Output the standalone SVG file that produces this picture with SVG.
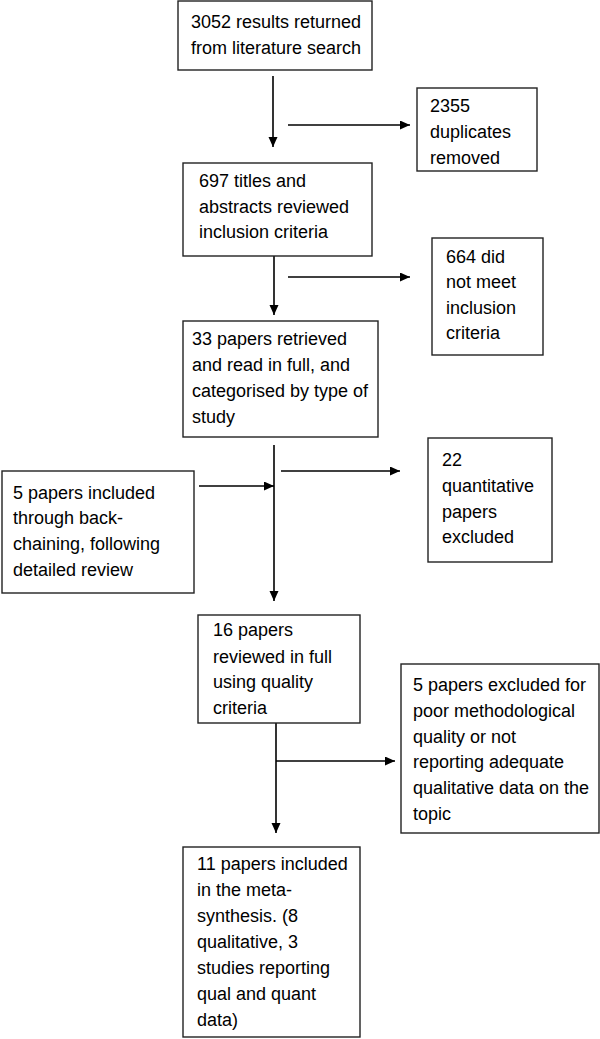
<svg xmlns="http://www.w3.org/2000/svg" width="600" height="1039" viewBox="0 0 600 1039">
<style>
.box{fill:#fff;stroke:#222;stroke-width:1.4}
.t{font-family:"Liberation Sans",Arial,Helvetica,sans-serif;font-size:18px;fill:#000}
.c{stroke:#000;stroke-width:1.6;fill:none}
.a{marker-end:url(#ah)}
</style>
<defs>
<marker id="ah" markerUnits="userSpaceOnUse" markerWidth="11" markerHeight="10" refX="10" refY="4.5" orient="auto">
<path d="M0,0 L10,4.5 L0,9 z" fill="#000"/>
</marker>
</defs>
<rect width="600" height="1039" fill="#fff"/>
<g id="connectors">
<line class="c a" x1="273" y1="76" x2="273" y2="147"/>
<line class="c a" x1="288" y1="125" x2="410" y2="125"/>
<line class="c a" x1="274" y1="256" x2="274" y2="315"/>
<line class="c a" x1="288" y1="277" x2="410" y2="277"/>
<line class="c a" x1="274" y1="445" x2="274" y2="601"/>
<line class="c a" x1="199" y1="486" x2="274" y2="486"/>
<line class="c a" x1="281" y1="471" x2="400" y2="471"/>
<line class="c a" x1="276" y1="723" x2="276" y2="833"/>
<line class="c a" x1="276" y1="761" x2="395" y2="761"/>
</g>
<g id="n1">
<rect class="box" x="178" y="1" width="194" height="69"/>
<text class="t" x="191" y="28">3052 results returned</text>
<text class="t" x="191" y="54">from literature search</text>
</g>
<g id="n2">
<rect class="box" x="417" y="88" width="120" height="83"/>
<text class="t" x="430" y="112">2355</text>
<text class="t" x="430" y="138">duplicates</text>
<text class="t" x="430" y="164">removed</text>
</g>
<g id="n3">
<rect class="box" x="183" y="163" width="189" height="93"/>
<text class="t" x="199" y="187">697 titles and</text>
<text class="t" x="199" y="213">abstracts reviewed</text>
<text class="t" x="199" y="238">inclusion criteria</text>
</g>
<g id="n4">
<rect class="box" x="432" y="238" width="111" height="117"/>
<text class="t" x="446" y="263">664 did</text>
<text class="t" x="446" y="288">not meet</text>
<text class="t" x="446" y="314">inclusion</text>
<text class="t" x="446" y="339">criteria</text>
</g>
<g id="n5">
<rect class="box" x="183" y="321" width="195" height="116"/>
<text class="t" x="192" y="345">33 papers retrieved</text>
<text class="t" x="192" y="371">and read in full, and</text>
<text class="t" x="192" y="397">categorised by type of</text>
<text class="t" x="192" y="423">study</text>
</g>
<g id="n6">
<rect class="box" x="2" y="471" width="192" height="122"/>
<text class="t" x="13" y="499">5 papers included</text>
<text class="t" x="13" y="524">through back-</text>
<text class="t" x="13" y="550">chaining, following</text>
<text class="t" x="13" y="576">detailed review</text>
</g>
<g id="n7">
<rect class="box" x="428" y="438" width="124" height="124"/>
<text class="t" x="442" y="466">22</text>
<text class="t" x="442" y="492">quantitative</text>
<text class="t" x="442" y="518">papers</text>
<text class="t" x="442" y="543">excluded</text>
</g>
<g id="n8">
<rect class="box" x="198" y="615" width="162" height="108"/>
<text class="t" x="213" y="636">16 papers</text>
<text class="t" x="213" y="663">reviewed in full</text>
<text class="t" x="213" y="688">using quality</text>
<text class="t" x="213" y="714">criteria</text>
</g>
<g id="n9">
<rect class="box" x="401" y="664" width="198" height="169"/>
<text class="t" x="413" y="691">5 papers excluded for</text>
<text class="t" x="413" y="717">poor methodological</text>
<text class="t" x="413" y="743">quality or not</text>
<text class="t" x="413" y="768">reporting adequate</text>
<text class="t" x="413" y="794">qualitative data on the</text>
<text class="t" x="413" y="820">topic</text>
</g>
<g id="n10">
<rect class="box" x="183" y="847" width="177" height="190"/>
<text class="t" x="197" y="870">11 papers included</text>
<text class="t" x="197" y="896">in the meta-</text>
<text class="t" x="197" y="922">synthesis. (8</text>
<text class="t" x="197" y="948">qualitative, 3</text>
<text class="t" x="197" y="974">studies reporting</text>
<text class="t" x="197" y="1000">qual and quant</text>
<text class="t" x="197" y="1026">data)</text>
</g>
</svg>
